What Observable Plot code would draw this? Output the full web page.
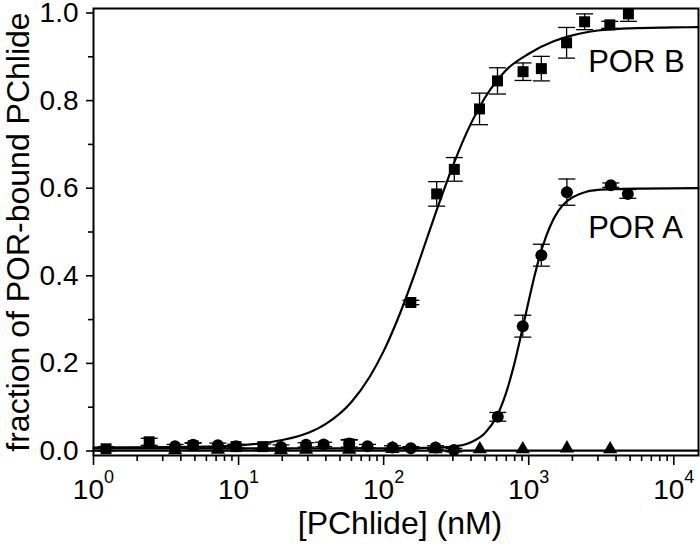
<!DOCTYPE html>
<html>
<head>
<meta charset="utf-8">
<script src="https://cdn.jsdelivr.net/npm/d3@7"></script>
<script src="https://cdn.jsdelivr.net/npm/@observablehq/plot@0.6"></script>
<style>
  html, body { margin: 0; padding: 0; background: #fff; }
  #chart { width: 700px; height: 546px; }
</style>
</head>
<body>
<div id="chart"></div>
<script>
// ---- Data ----
// POR B (squares)
const porB_x   = [1.22, 2.42, 4.86, 9.6, 14.7, 57.9, 154, 232, 307, 458, 609, 914, 1222, 1824, 2427, 3622, 4866];
const porB_y   = [0.005, 0.021, 0.012, 0.010, 0.010, 0.016, 0.339, 0.587, 0.643, 0.781, 0.845, 0.866, 0.873, 0.932, 0.980, 0.973, 0.998];
const porB_err = [0.005, 0.008, 0.006, 0.005, 0.006, 0.010, 0.005, 0.028, 0.027, 0.036, 0.030, 0.020, 0.028, 0.035, 0.018, 0.008, 0.017];
// POR A (circles)
const porA_x   = [3.65, 4.86, 7.2, 9.6, 19.6, 29.2, 38.6, 57.9, 77.4, 115, 154, 228, 305, 612, 910, 1222, 1833, 3680, 4819];
const porA_y   = [0.011, 0.014, 0.013, 0.011, 0.009, 0.014, 0.015, 0.017, 0.011, 0.008, 0.006, 0.008, 0.002, 0.078, 0.285, 0.447, 0.591, 0.607, 0.587];
const porA_err = [0.004, 0.005, 0.005, 0.004, 0.005, 0.005, 0.005, 0.008, 0.004, 0.004, 0.004, 0.004, 0.004, 0.010, 0.025, 0.025, 0.030, 0.005, 0.010];
// Control (triangles)
const tri_x = [3.65, 7.2, 19.6, 29.2, 57.9, 115, 228, 460, 910, 1834, 3641];
const tri_y = [0.002, 0.003, 0.002, 0.003, 0.003, 0.005, 0.004, 0.004, 0.004, 0.006, 0.004];

// Fitted curves
const curveB_x = [1, 5, 10, 20, 30, 40, 60, 80, 100, 130, 160, 200, 250, 300, 400, 500, 700, 1000, 1500, 2000, 3000, 5000, 10000, 14800];
const curveB_y = [0.008, 0.0095, 0.013, 0.025, 0.041, 0.062, 0.112, 0.169, 0.228, 0.315, 0.395, 0.488, 0.580, 0.651, 0.748, 0.807, 0.870, 0.907, 0.936, 0.949, 0.960, 0.965, 0.967, 0.968];
const curveA_x = [1, 100, 200, 300, 400, 500, 600, 700, 800, 900, 1000, 1100, 1250, 1400, 1600, 1800, 2000, 2500, 3000, 4000, 6000, 14800];
const curveA_y = [0.006, 0.006, 0.007, 0.010, 0.020, 0.041, 0.078, 0.134, 0.202, 0.275, 0.343, 0.402, 0.468, 0.512, 0.548, 0.568, 0.579, 0.592, 0.596, 0.598, 0.599, 0.600];
const curveC_x = [1, 14800];
const curveC_y = [0.001, 0.001];

// Axis ticks
const xMajor = [1, 10, 100, 1000, 10000];
const xExp = ["0", "1", "2", "3", "4"];
const xMinor = [];
for (let e = 0; e <= 4; e++) for (let m = 2; m <= 9; m++) { const v = m * Math.pow(10, e); if (v <= 14800) xMinor.push(v); }
const yMajor = [0, 0.2, 0.4, 0.6, 0.8, 1.0];
const yMinor = [0.1, 0.3, 0.5, 0.7, 0.9];

// Annotations
const labelText = ["POR B", "POR A"];
const labelX = [2570, 2570];
const labelY = [0.887, 0.510];

const xTitle = "[PChlide] (nM)";
const yTitle = "fraction of POR-bound PChlide";

// ---- Build tables ----
const zip = (xs, ys, es) => xs.map((x, i) => ({x, y: ys[i], e: es ? es[i] : 0}));
const B = zip(porB_x, porB_y, porB_err);
const A = zip(porA_x, porA_y, porA_err);
const T = zip(tri_x, tri_y);
const cB = zip(curveB_x, curveB_y);
const cA = zip(curveA_x, curveA_y);
const cC = zip(curveC_x, curveC_y);
const labels = labelText.map((t, i) => ({t, x: labelX[i], y: labelY[i]}));
const decades = xMajor.map((v, i) => ({x: v, e: xExp[i]}));

const capSymbol = { draw(ctx) { ctx.moveTo(-8.5, 0); ctx.lineTo(8.5, 0); } };
const FONT = "'Liberation Sans', Arial, Helvetica, sans-serif";

function errMarks(data) {
  return [
    Plot.ruleX(data, {x: "x", y1: d => d.y - d.e, y2: d => d.y + d.e, stroke: "black", strokeWidth: 1.3, clip: true}),
    Plot.dot(data, {x: "x", y: d => d.y - d.e, symbol: capSymbol, r: 3, fill: "none", stroke: "black", strokeWidth: 1.3, clip: true}),
    Plot.dot(data, {x: "x", y: d => d.y + d.e, symbol: capSymbol, r: 3, fill: "none", stroke: "black", strokeWidth: 1.3, clip: true})
  ];
}

const plot = Plot.plot({
  width: 700,
  height: 546,
  marginLeft: 93,
  marginRight: 2,
  marginTop: 8,
  marginBottom: 91,
  style: {fontFamily: FONT, background: "white", color: "black"},
  x: {type: "log", domain: [1, 14800]},
  y: {domain: [-0.0103, 1.0103]},
  marks: [
    // axes
    Plot.axisX({ticks: xMajor, tickSize: 10, tickFormat: () => "", strokeWidth: 1.6, label: null}),
    Plot.axisX({ticks: xMinor, tickSize: 6, tickFormat: () => "", strokeWidth: 1.6, label: null}),
    Plot.axisY({ticks: yMajor, tickSize: 7, tickPadding: 8, tickFormat: d3.format(".1f"), fontSize: 28, strokeWidth: 1.6, label: null}),
    Plot.axisY({ticks: yMinor, tickSize: 5, tickFormat: () => "", strokeWidth: 1.6, label: null}),
    Plot.text(decades, {x: "x", text: () => "10", frameAnchor: "bottom", lineAnchor: "middle", dy: 34.3, dx: 10.5, textAnchor: "end", fontSize: 28}),
    Plot.text(decades, {x: "x", text: "e", frameAnchor: "bottom", lineAnchor: "middle", dy: 22.2, dx: 10.5, textAnchor: "start", fontSize: 18}),
    Plot.text([xTitle], {text: d => d, frameAnchor: "bottom", lineAnchor: "middle", textAnchor: "middle", dy: 68, dx: 4, fontSize: 32}),
    Plot.text([yTitle], {text: d => d, frameAnchor: "left", lineAnchor: "middle", textAnchor: "middle", dx: -75, rotate: -90, fontSize: 32}),
    // fit curves
    Plot.line(cC, {x: "x", y: "y", stroke: "black", strokeWidth: 2.2}),
    Plot.line(cA, {x: "x", y: "y", stroke: "black", strokeWidth: 2.2, curve: "monotone-x"}),
    Plot.line(cB, {x: "x", y: "y", stroke: "black", strokeWidth: 2.2, curve: "monotone-x"}),
    // error bars
    ...errMarks(B),
    ...errMarks(A),
    // points
    Plot.dot(T, {x: "x", y: "y", symbol: "triangle", r: 5.3, fill: "black", stroke: "none"}),
    Plot.dot(A, {x: "x", y: "y", symbol: "circle", r: 6, fill: "black", stroke: "none"}),
    Plot.dot(B, {x: "x", y: "y", symbol: "square", r: 6.2, fill: "black", stroke: "none", clip: true}),
    // labels
    Plot.text(labels, {x: "x", y: "y", text: "t", textAnchor: "start", lineAnchor: "middle", fontSize: 31}),
    Plot.frame({stroke: "black", strokeWidth: 2})
  ]
});
document.getElementById("chart").appendChild(plot);
</script>
</body>
</html>
